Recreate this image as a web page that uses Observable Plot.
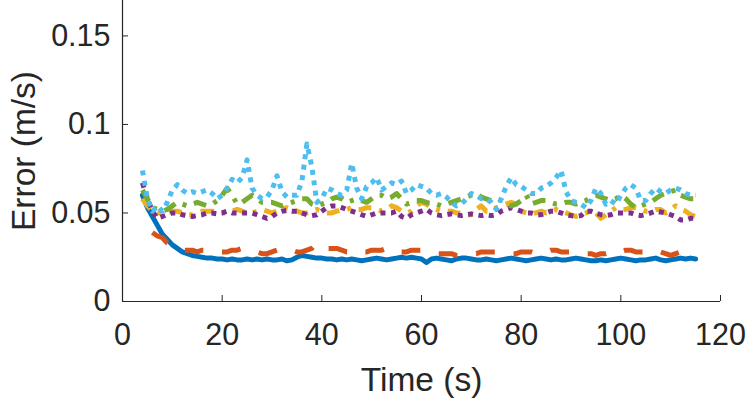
<!DOCTYPE html>
<html><head><meta charset="utf-8">
<script src="https://cdn.jsdelivr.net/npm/d3@7"></script>
<script src="https://cdn.jsdelivr.net/npm/@observablehq/plot@0.6"></script>
<style>
body{margin:0;background:#fff}
svg{font-family:"Liberation Sans",Arial,Helvetica,sans-serif}
</style>
</head><body><div id="chart"></div>
<script>
const time = [4,5,6,7,8,9,10,11,12,13,14,15,16,17,18,19,20,21,22,23,24,25,26,27,28,29,30,31,32,33,34,35,36,37,38,39,40,41,42,43,44,45,46,47,48,49,50,51,52,53,54,55,56,57,58,59,60,61,62,63,64,65,66,67,68,69,70,71,72,73,74,75,76,77,78,79,80,81,82,83,84,85,86,87,88,89,90,91,92,93,94,95,96,97,98,99,100,101,102,103,104,105,106,107,108,109,110,111,112,113,114,115];
const timeOrange = [6,7,8,9,10,11,12,13,14,15,16,17,18,19,20,21,22,23,24,25,26,27,28,29,30,31,32,33,34,35,36,37,38,39,40,41,42,43,44,45,46,47,48,49,50,51,52,53,54,55,56,57,58,59,60,61,62,63,64,65,66,67,68,69,70,71,72,73,74,75,76,77,78,79,80,81,82,83,84,85,86,87,88,89,90,91,92,93,94,95,96,97,98,99,100,101,102,103,104,105,106,107,108,109,110,111,112,113,114,115];

const blue = [0.060,0.053,0.048,0.043,0.038,0.035,0.032,0.030,0.028,0.027,
0.026,0.0255,0.025,0.0245,0.0245,0.024,0.024,0.0235,0.024,0.0235,
0.0235,0.024,0.0235,0.024,0.0235,0.024,0.0235,0.0235,0.024,0.023,
0.0235,0.025,0.026,0.0255,0.025,0.0245,0.0245,0.024,0.024,0.0235,
0.024,0.0235,0.024,0.0235,0.023,0.0235,0.024,0.0245,0.024,0.0235,
0.024,0.0245,0.025,0.0245,0.025,0.0245,0.024,0.022,0.024,0.0245,
0.024,0.0235,0.023,0.024,0.0245,0.0245,0.024,0.0235,0.0235,0.024,
0.0235,0.023,0.0235,0.024,0.0245,0.024,0.0235,0.023,0.0235,0.024,
0.0245,0.024,0.0235,0.024,0.0235,0.0235,0.024,0.0245,0.024,0.0235,
0.023,0.023,0.0235,0.023,0.0235,0.024,0.0245,0.024,0.0235,0.023,
0.0235,0.0235,0.024,0.0245,0.0235,0.023,0.0235,0.024,0.0245,0.024,
0.0245,0.024];

const orange = [0.039,0.037,0.036,0.033,0.031,0.030,0.029,0.029,0.029,0.028,
0.029,0.029,0.028,0.028,0.028,0.028,0.029,0.029,0.030,0.030,
0.029,0.028,0.027,0.027,0.028,0.029,0.030,0.030,0.029,0.028,
0.028,0.029,0.030,0.033,0.032,0.030,0.030,0.030,0.029,0.028,
0.028,0.029,0.028,0.028,0.029,0.029,0.029,0.030,0.030,0.028,
0.028,0.028,0.029,0.029,0.029,0.028,0.028,0.027,0.027,0.027,
0.027,0.026,0.026,0.027,0.027,0.027,0.028,0.028,0.028,0.028,
0.028,0.027,0.027,0.027,0.028,0.028,0.028,0.027,0.027,0.028,
0.029,0.029,0.028,0.028,0.028,0.028,0.028,0.027,0.027,0.026,
0.027,0.027,0.028,0.027,0.028,0.029,0.029,0.028,0.028,0.028,
0.029,0.029,0.028,0.027,0.026,0.027,0.028,0.029,0.030,0.031];

const yellow = [0.058,0.054,0.051,0.050,0.050,0.050,0.051,0.051,0.050,0.049,
0.049,0.050,0.051,0.051,0.051,0.050,0.050,0.050,0.051,0.052,
0.051,0.050,0.050,0.051,0.052,0.051,0.050,0.051,0.052,0.053,
0.052,0.051,0.050,0.050,0.051,0.052,0.051,0.050,0.050,0.051,
0.052,0.052,0.053,0.052,0.052,0.053,0.053,0.052,0.051,0.052,
0.054,0.053,0.051,0.050,0.051,0.054,0.056,0.055,0.053,0.052,
0.051,0.051,0.051,0.050,0.050,0.049,0.049,0.052,0.054,0.051,
0.051,0.053,0.054,0.055,0.056,0.055,0.051,0.050,0.050,0.050,
0.051,0.050,0.051,0.052,0.051,0.050,0.049,0.048,0.049,0.050,
0.051,0.050,0.047,0.049,0.051,0.053,0.052,0.052,0.053,0.053,
0.052,0.051,0.051,0.052,0.052,0.050,0.052,0.054,0.052,0.051,
0.049,0.048];

const purple = [0.067,0.058,0.051,0.047,0.048,0.049,0.050,0.050,0.049,0.0485,
0.048,0.0485,0.049,0.050,0.050,0.0495,0.050,0.051,0.050,0.050,
0.050,0.050,0.050,0.049,0.048,0.047,0.048,0.050,0.051,0.0515,
0.051,0.051,0.050,0.049,0.0485,0.049,0.051,0.053,0.054,0.054,
0.053,0.052,0.051,0.050,0.049,0.048,0.049,0.050,0.050,0.050,
0.050,0.051,0.048,0.047,0.049,0.050,0.051,0.052,0.050,0.049,
0.0485,0.049,0.0495,0.049,0.0485,0.049,0.0495,0.049,0.0485,0.049,
0.0485,0.049,0.051,0.052,0.053,0.052,0.051,0.050,0.050,0.049,
0.049,0.050,0.051,0.051,0.050,0.049,0.0485,0.048,0.0485,0.051,
0.051,0.050,0.049,0.0485,0.049,0.050,0.050,0.050,0.050,0.049,
0.0485,0.049,0.050,0.051,0.0505,0.050,0.049,0.048,0.046,0.046,
0.047,0.047];

const green = [0.063,0.058,0.053,0.052,0.051,0.052,0.054,0.056,0.055,0.054,
0.055,0.056,0.055,0.054,0.055,0.057,0.060,0.064,0.060,0.055,
0.056,0.058,0.060,0.058,0.056,0.056,0.056,0.055,0.054,0.055,
0.056,0.057,0.058,0.058,0.055,0.054,0.055,0.056,0.058,0.059,
0.058,0.056,0.057,0.058,0.057,0.056,0.058,0.060,0.060,0.058,
0.059,0.061,0.058,0.055,0.056,0.057,0.057,0.056,0.055,0.055,
0.054,0.055,0.056,0.057,0.058,0.059,0.060,0.061,0.059,0.058,
0.057,0.058,0.057,0.055,0.054,0.055,0.057,0.060,0.055,0.056,
0.057,0.057,0.056,0.055,0.055,0.056,0.056,0.055,0.056,0.057,
0.059,0.060,0.059,0.058,0.057,0.058,0.060,0.058,0.055,0.053,
0.054,0.055,0.056,0.058,0.060,0.061,0.062,0.063,0.060,0.059,
0.058,0.058];

const cyan = [0.074,0.058,0.051,0.054,0.051,0.056,0.063,0.066,0.063,0.061,
0.062,0.061,0.062,0.063,0.061,0.058,0.060,0.064,0.069,0.067,
0.070,0.080,0.064,0.060,0.058,0.059,0.063,0.071,0.062,0.059,
0.060,0.060,0.068,0.089,0.076,0.056,0.058,0.064,0.063,0.061,
0.060,0.063,0.078,0.064,0.058,0.065,0.067,0.070,0.063,0.065,
0.067,0.066,0.068,0.061,0.063,0.066,0.065,0.064,0.061,0.060,
0.061,0.059,0.056,0.054,0.055,0.058,0.061,0.060,0.058,0.058,
0.056,0.052,0.058,0.065,0.070,0.066,0.065,0.063,0.061,0.061,
0.064,0.065,0.067,0.070,0.074,0.062,0.057,0.056,0.055,0.053,
0.057,0.064,0.061,0.055,0.057,0.055,0.060,0.064,0.066,0.064,
0.057,0.057,0.061,0.064,0.062,0.061,0.063,0.064,0.063,0.061,
0.060,0.060];

const xTicks = [0, 20, 40, 60, 80, 100, 120];
const xTickLabels = ["0", "20", "40", "60", "80", "100", "120"];
const yTicks = [0, 0.05, 0.1, 0.15];
const yTickLabels = ["0", "0.05", "0.1", "0.15"];
const xLabel = "Time (s)";
const yLabel = "Error (m/s)";

const rows = (t, v) => t.map((x, i) => ({t: x, v: v[i]}));
const ink = "#262626";
const lw = 5;
const line = (t, v, color, dash, cap) => Plot.line(rows(t, v), {
  x: "t", y: "v", stroke: color, strokeWidth: lw,
  strokeDasharray: dash, strokeLinecap: cap || "butt", strokeLinejoin: "round"
});

const chart = Plot.plot({
  width: 747, height: 399,
  marginLeft: 122, marginRight: 27, marginTop: 0, marginBottom: 98,
  x: {domain: [0, 120]},
  y: {domain: [0, 0.17]},
  style: {background: "white", color: ink, overflow: "visible", fontFamily: "'Liberation Sans', Arial, sans-serif"},
  marks: [
    line(time, blue, "#0072BD", null, "round"),
    line(timeOrange, orange, "#D95319", "19,19"),
    line(time, yellow, "#EDB120", "13,8,4,8"),
    line(time, purple, "#7E2F8E", "5,5.5"),
    line(time, green, "#77AC30", "13,8,4,8"),
    line(time, cyan, "#4DBEEE", "5,5.5"),
    Plot.ruleY([0], {stroke: ink, strokeWidth: 1.2}),
    Plot.ruleX([0], {stroke: ink, strokeWidth: 1.2}),
    Plot.axisX({ticks: xTicks, tickSize: -6, tickPadding: 28, fontSize: 30.5, label: null,
      tickFormat: d => xTickLabels[xTicks.indexOf(d)], stroke: ink}),
    Plot.axisY({ticks: yTicks, tickSize: -6, tickPadding: 18, fontSize: 30.5, label: null,
      tickFormat: d => yTickLabels[yTicks.indexOf(d)], stroke: ink}),
    Plot.text([xLabel], {frameAnchor: "bottom", dy: 89, lineAnchor: "bottom", textAnchor: "middle", fontSize: 33.5, fill: ink}),
    Plot.text([yLabel], {frameAnchor: "left", rotate: -90, dx: -88, lineAnchor: "bottom", textAnchor: "middle", fontSize: 33.5, fill: ink})
  ]
});
document.getElementById("chart").appendChild(chart);
</script>
</body></html>
